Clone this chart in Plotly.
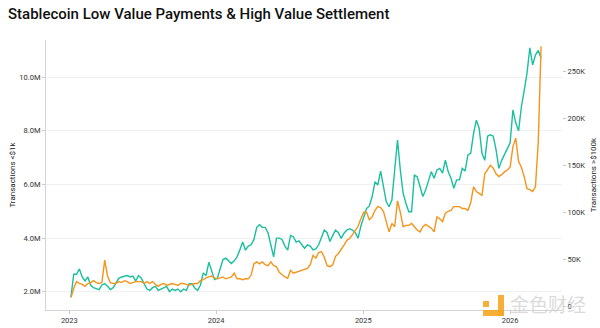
import pandas as pd
import plotly.graph_objects as go

# Weekly series, first week starting 2023-01-05
start_date = "2023-01-05"
n_weeks = 168

# Weekly count of stablecoin transactions under $1k (millions)
low_value_m = [
    1.8, 2.65, 2.65, 2.85, 2.55, 2.40, 2.55, 2.25, 2.15, 2.1, 2.08, 2.25, 2.3, 2.2, 2.08, 2.15,
    2.35, 2.5, 2.55, 2.58, 2.6, 2.55, 2.58, 2.4, 2.6, 2.5, 2.3, 2.1, 2.05, 2.15, 2.2, 2.05,
    2.1, 2.15, 2.2, 2.0, 2.1,
    2.05, 2.1, 2.0, 2.1, 2.05, 2.3, 2.3, 2.14, 2.05, 2.25, 2.7, 2.6, 3.1, 2.75, 2.45,
    2.5, 2.9, 3.2, 3.25, 3.15, 3.05, 3.15, 3.3, 3.56, 3.85, 3.55, 3.7, 3.75, 3.95, 4.4,
    4.5, 4.4, 4.4, 4.2, 3.7,
    3.3, 4.0, 4.0, 3.95, 3.7, 3.55, 4.1, 4.05, 3.85, 3.9, 3.75, 3.62, 3.75, 3.7, 3.56,
    3.6, 3.75, 4.0, 4.3, 4.2, 3.87, 4.1, 4.3, 4.2, 3.99, 4.18, 4.3, 4.35, 4.3, 4.2,
    4.0, 4.45, 4.8,
    5.1, 5.2, 5.55, 6.1, 5.98, 6.5, 5.85, 5.36, 5.17, 5.42, 6.54, 7.66, 6.54, 5.67, 5.30,
    4.98, 4.98, 6.35, 6.29, 5.92, 5.55, 5.79, 6.17, 6.48, 6.23, 6.54, 6.6, 6.42, 6.91, 6.48,
    6.23, 5.86, 6.17,
    6.17, 6.6, 6.5, 7.1, 7.16, 7.9, 8.4, 8.1, 7.16, 6.9, 7.8, 7.85, 7.8, 7.3, 6.6,
    6.9, 7.1, 7.3, 7.55, 8.78, 8.3, 8.0, 8.9, 9.5, 10.15, 11.1, 10.46, 10.83, 11.0, 10.71,
]

# Weekly count of stablecoin transactions over $100k (thousands)
high_value_k = [
    9, 19, 26, 24, 23, 21, 24, 25, 27, 25, 24, 25, 49, 32, 25, 24,
    24, 26, 25, 27, 26, 24, 25, 26, 26, 26, 24, 26, 24, 26, 23, 21,
    23, 24, 22, 23, 24,
    23, 22, 24, 24, 23, 22, 23, 24, 24, 27, 28, 30, 31, 32, 30,
    29, 30, 31, 29, 30, 31, 35, 29, 29, 28, 29, 29, 33, 45, 47,
    45, 47, 44, 43, 47,
    43, 42, 36, 33, 31, 29.5, 38, 35, 36, 37, 38, 38.5, 40, 44, 54,
    51, 57, 58, 52, 43, 42, 44, 53, 56, 60, 65, 70, 72, 76, 80,
    85, 93, 100,
    100, 92, 95, 102, 106, 105, 101, 90, 79, 88, 84.5, 112, 100, 84.5, 86,
    86, 88, 84.5, 81, 79, 84.5, 87, 85, 83, 79, 95, 93, 90, 99, 101,
    102, 106, 106,
    106, 104, 104, 102, 110, 127, 122, 120, 118, 141, 145, 150, 147, 141, 138,
    140, 143, 145, 148, 170, 179, 154, 148, 138, 125, 124, 122, 127, 175, 277,
]

year_ticks = ["2023-01-01", "2024-01-01", "2025-01-01", "2026-01-01"]
year_labels = ["2023", "2024", "2025", "2026"]
left_ticks = [2e6, 4e6, 6e6, 8e6, 10e6]
left_labels = ["2.0M", "4.0M", "6.0M", "8.0M", "10.0M"]
right_ticks = [0, 50e3, 100e3, 150e3, 200e3, 250e3]
right_labels = ["0", "50K", "100K", "150K", "200K", "250K"]

GREEN = "#19bf9f"
ORANGE = "#f5941a"
TICK_FONT = dict(family="Roboto", size=7.5, color="#333333")
AXIS_TITLE_FONT = dict(family="Roboto", size=8, color="#222222")

dates = pd.date_range(start_date, periods=n_weeks, freq="7D")

fig = go.Figure()
fig.add_trace(go.Scatter(
    x=dates, y=[v * 1e6 for v in low_value_m], mode="lines",
    line=dict(color=GREEN, width=1.4), name="Transactions <$1k", yaxis="y",
))
fig.add_trace(go.Scatter(
    x=dates, y=[v * 1e3 for v in high_value_k], mode="lines",
    line=dict(color=ORANGE, width=1.4), name="Transactions >$100k", yaxis="y2",
))

fig.update_layout(
    width=600, height=328,
    margin=dict(l=46, r=38, t=40, b=18, autoexpand=False),
    paper_bgcolor="white", plot_bgcolor="white",
    showlegend=False,
    title=dict(
        text="Stablecoin Low Value Payments & High Value Settlement",
        x=8 / 600, xanchor="left", xref="container",
        y=1 - 14 / 328, yanchor="middle", yref="container",
        font=dict(family="Roboto", size=15, color="#111111", weight=500),
    ),
    xaxis=dict(
        type="date", range=["2022-11-04", "2026-05-10"], automargin=False,
        tickvals=year_ticks, ticktext=year_labels, tickfont=TICK_FONT,
        showgrid=False, zeroline=False,
        showline=True, linecolor="#d4d4d4", linewidth=1,
        ticks="outside", ticklen=3, tickcolor="#c8c8c8",
    ),
    yaxis=dict(
        range=[1.317e6, 11.39e6], automargin=False,
        tickvals=left_ticks, ticktext=left_labels, tickfont=TICK_FONT,
        showgrid=True, gridcolor="#f0f0f0", gridwidth=1, zeroline=False,
        showline=True, linecolor="#d4d4d4", linewidth=1,
        ticks="outside", ticklen=3, tickcolor="#c8c8c8",
        title=dict(text="Transactions &lt;$1k", font=AXIS_TITLE_FONT, standoff=2),
    ),
    yaxis2=dict(
        overlaying="y", side="right", anchor="x", automargin=False,
        range=[-4.26e3, 283.6e3],
        tickvals=right_ticks, ticktext=right_labels, tickfont=TICK_FONT,
        showgrid=False, zeroline=False, showline=False,
        ticks="outside", ticklen=3, tickcolor="#c8c8c8",
        title=dict(text="Transactions &gt;$100k", font=AXIS_TITLE_FONT, standoff=6),
    ),
)

# source watermark in the lower right corner
fig.add_annotation(
    text="金色财经", xref="paper", yref="paper",
    x=(548 - 46) / 516, y=(310 - 303) / 270, xanchor="center", yanchor="middle",
    showarrow=False,
    font=dict(family="Noto Sans CJK SC", size=19, color="rgba(210,210,210,0.8)"),
)
logo = [(483, 301, 489, 307), (498, 295, 504, 316), (483, 310, 504, 316)]
for x0, y0, x1, y1 in logo:
    fig.add_shape(
        type="rect", xref="paper", yref="paper",
        x0=(x0 - 46) / 516, x1=(x1 - 46) / 516,
        y0=(310 - y1) / 270, y1=(310 - y0) / 270,
        line=dict(width=0), fillcolor="rgba(245,166,35,0.9)",
    )

fig.write_html("out.html")
